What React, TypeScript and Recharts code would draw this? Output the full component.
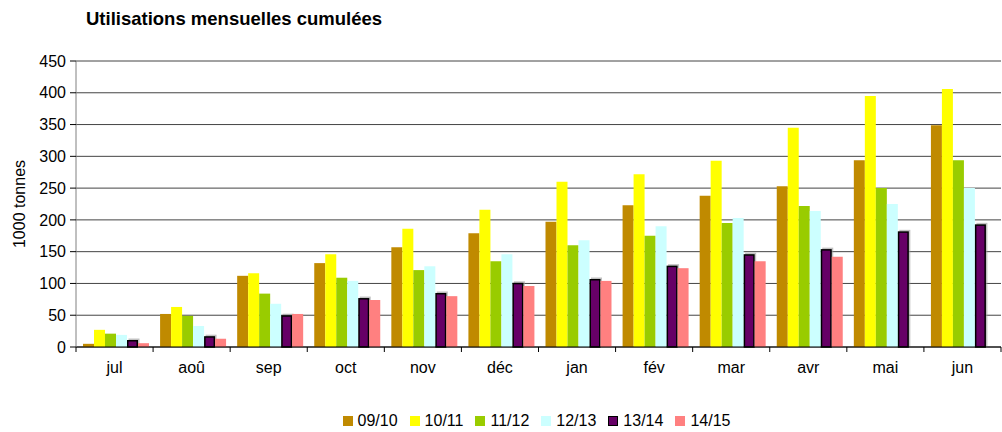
import React from "react";
import { BarChart, Bar, XAxis, YAxis, CartesianGrid, Legend } from "recharts";

const months = ["jul", "aoû", "sep", "oct", "nov", "déc", "jan", "fév", "mar", "avr", "mai", "jun"];

const s0910 = [5, 52, 112, 132, 157, 179, 197, 223, 238, 253, 294, 349];
const s1011 = [27, 63, 116, 146, 186, 216, 260, 272, 293, 345, 395, 406];
const s1112 = [21, 49, 84, 109, 121, 135, 160, 175, 195, 222, 250, 294];
const s1213 = [19, 33, 68, 104, 127, 146, 168, 190, 203, 214, 225, 250];
const s1314 = [11, 17, 50, 77, 85, 101, 107, 128, 146, 154, 182, 193];
const s1415 = [6, 13, 52, 74, 80, 96, 104, 124, 135, 142, null, null];

const yTicks = [0, 50, 100, 150, 200, 250, 300, 350, 400, 450];

const SERIES = [
  { key: "s0910", name: "09/10", color: "#C08A00" },
  { key: "s1011", name: "10/11", color: "#FFFF00" },
  { key: "s1112", name: "11/12", color: "#99CC00" },
  { key: "s1213", name: "12/13", color: "#CCFFFF" },
  { key: "s1314", name: "13/14", color: "#660066", outlined: true },
  { key: "s1415", name: "14/15", color: "#FF8080" },
];

const data = months.map((m, i) => ({
  month: m,
  s0910: s0910[i],
  s1011: s1011[i],
  s1112: s1112[i],
  s1213: s1213[i],
  s1314: s1314[i],
  s1415: s1415[i],
}));

const FONT = "'Liberation Sans', Arial, sans-serif";
const BAND = 925 / 12;

function MonthTick(props: any) {
  const { x, y, payload, index } = props;
  const left = x - BAND / 2;
  return (
    <g>
      <line x1={left} y1={y} x2={left} y2={y + 5} stroke="#000" />
      {index === months.length - 1 && (
        <line x1={left + BAND} y1={y} x2={left + BAND} y2={y + 5} stroke="#000" />
      )}
      <text x={x} y={y + 26} textAnchor="middle" fontSize={16} fontFamily={FONT} fill="#000">
        {payload.value}
      </text>
    </g>
  );
}

function OutlinedBar(props: any) {
  const { x, y, width, height, fill } = props;
  if (!height || height <= 0) return null;
  return (
    <g>
      <rect x={x + 1.5} y={y - 1.5} width={width} height={height + 1.5} fill="#999" opacity={0.6} />
      <rect x={x + 0.75} y={y + 0.75} width={width - 1.5} height={height - 0.75} fill={fill} stroke="#000" strokeWidth={1.5} />
    </g>
  );
}

function LegendContent() {
  return (
    <div style={{ display: "flex", justifyContent: "center", paddingLeft: 84, paddingTop: 10, fontFamily: FONT, fontSize: 16 }}>
      {SERIES.map((s) => (
        <div key={s.key} style={{ display: "flex", alignItems: "center", marginRight: 12 }}>
          <span
            style={{
              display: "inline-block",
              width: s.outlined ? 8 : 10,
              height: s.outlined ? 8 : 10,
              background: s.color,
              border: s.outlined ? "1px solid #000" : "none",
              marginRight: 5,
            }}
          />
          <span>{s.name}</span>
        </div>
      ))}
    </div>
  );
}

export default function App() {
  return (
    <div style={{ position: "absolute", left: 0, top: 0, width: 1002, height: 432, background: "#fff" }}>
      <div
        style={{
          position: "absolute",
          left: 86,
          top: 8,
          fontFamily: FONT,
          fontWeight: "bold",
          fontSize: 18.5,
          color: "#000",
        }}
      >
        Utilisations mensuelles cumulées
      </div>
      <BarChart
        width={1002}
        height={432}
        data={data}
        margin={{ top: 61, right: 1, left: 0, bottom: 0 }}
        barCategoryGap={7}
        barGap={0}
      >
        <CartesianGrid vertical={false} stroke="#444" strokeWidth={1} />
        <XAxis
          dataKey="month"
          height={55}
          tickSize={0}
          tickMargin={0}
          tickLine={false}
          tick={<MonthTick />}
          interval={0}
          axisLine={{ stroke: "#000" }}
        />
        <YAxis
          width={76}
          domain={[0, 450]}
          ticks={yTicks}
          interval={0}
          tickSize={6}
          tickMargin={4}
          axisLine={{ stroke: "#808080" }}
          tickLine={{ stroke: "#000" }}
          tick={{ fontSize: 16, fontFamily: FONT, fill: "#000" }}
          label={{
            value: "1000 tonnes",
            angle: -90,
            position: "insideLeft",
            dx: 14,
            style: { fontSize: 16, fontFamily: FONT, fill: "#000", textAnchor: "middle" },
          }}
        />
        <Legend verticalAlign="bottom" height={30} content={<LegendContent />} />
        {SERIES.map((s) => (
          <Bar
            key={s.key}
            dataKey={s.key}
            name={s.name}
            fill={s.color}
            isAnimationActive={false}
            shape={s.outlined ? <OutlinedBar /> : undefined}
          />
        ))}
      </BarChart>
    </div>
  );
}
